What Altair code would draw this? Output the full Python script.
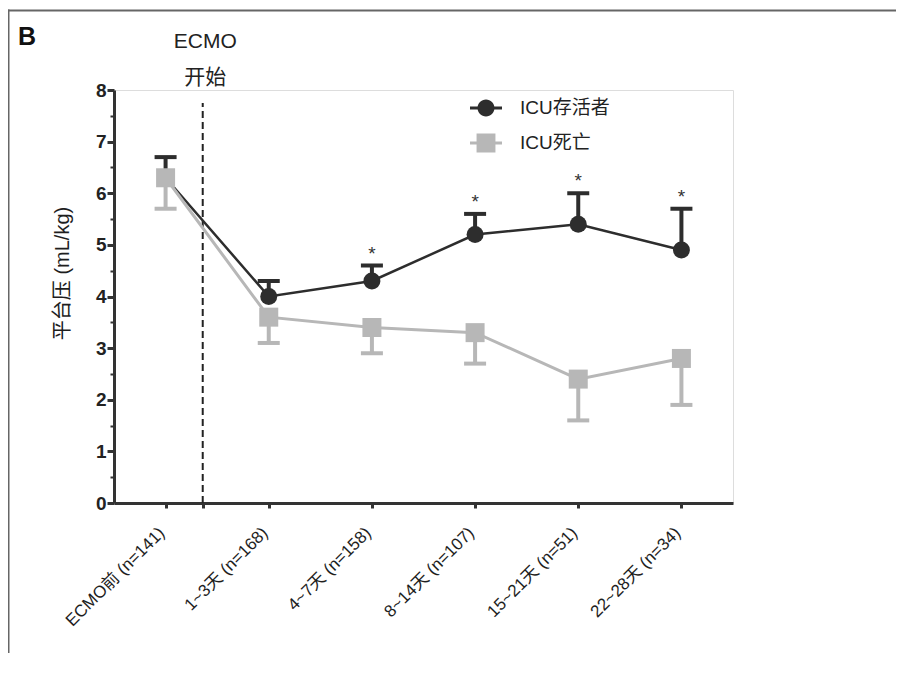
import json
import altair as alt
import pandas as pd

# ---------------- data ----------------
categories = ["ECMO前 (n=141)", "1~3天 (n=168)", "4~7天 (n=158)",
              "8~14天 (n=107)", "15~21天 (n=51)", "22~28天 (n=34)"]
positions = [0, 1, 2, 3, 4, 5]
survivor_mean = [6.3, 4.0, 4.3, 5.2, 5.4, 4.9]
survivor_upper = [6.7, 4.3, 4.6, 5.6, 6.0, 5.7]
death_mean = [6.3, 3.6, 3.4, 3.3, 2.4, 2.8]
death_lower = [5.7, 3.1, 2.9, 2.7, 1.6, 1.9]
significant = [False, False, True, True, True, True]
series_names = ["ICU存活者", "ICU死亡"]
ecmo_start = 0.36          # position of the "ECMO 开始" dashed line
dash_top = 7.75
y_ticks = [i / 2 for i in range(17)]
x_ticks = [0, ecmo_start, 1, 2, 3, 4, 5]

DARK = "#2d2d2d"
GRAY = "#b7b7b7"
AXIS = "#333333"
FONT = "Liberation Sans, Arial, Noto Sans CJK SC, sans-serif"

df = pd.DataFrame({
    "pos": positions, "label": categories,
    "s_mean": survivor_mean, "s_up": survivor_upper,
    "d_mean": death_mean, "d_low": death_lower, "sig": significant,
})
sig_df = df[df["sig"]]
legend_df = pd.DataFrame({"series": series_names, "pos": [0, 0], "v": [6.3, 6.3]})

xscale = alt.Scale(domain=[-0.5, 5.5], nice=False, zero=False)
yscale = alt.Scale(domain=[0, 8], nice=False, zero=False)

label_expr = ("datum.value % 1 === 0 ? " + json.dumps(categories, ensure_ascii=False)
              + "[datum.value] : ''")
xaxis = alt.Axis(values=x_ticks, labelExpr=label_expr, labelAngle=-45,
                 labelAlign="right", labelBaseline="middle", labelFontSize=17,
                 labelFont=FONT, labelColor="#1e1e1e", labelPadding=22, labelOffset=-4,
                 labelOverlap=False, labelFlush=False, labelBound=False,
                 tickSize=5, tickWidth=3, tickColor=AXIS,
                 domainColor=AXIS, domainWidth=3, grid=False, title=None)
yaxis = alt.Axis(values=y_ticks,
                 labelExpr="datum.value % 1 === 0 ? format(datum.value, 'd') : ''",
                 tickSize={"condition": {"test": "datum.value % 1 !== 0", "value": 4}, "value": 7},
                 tickWidth={"condition": {"test": "datum.value % 1 !== 0", "value": 2}, "value": 3},
                 tickColor=AXIS, domainColor=AXIS, domainWidth=3, grid=False,
                 labelFontSize=19, labelFontWeight="bold", labelFont=FONT,
                 labelColor="#222", labelPadding=1, labelOverlap=False,
                 labelFlush=False,
                 title="平台压 (mL/kg)", titleFont=FONT, titleFontSize=20,
                 titleFontWeight="normal", titleColor="#1e1e1e", titleAngle=270,
                 titleX=-52, titleY=183, titleAlign="center", titleBaseline="middle")

X = alt.X("pos:Q", scale=xscale, axis=xaxis)


def Y(field):
    return alt.Y(f"{field}:Q", scale=yscale, axis=yaxis)


base = alt.Chart(df)
one = alt.Data(values=[{}])

# frame of the figure panel
frame_top = alt.Chart(one).mark_rule(color="#666", strokeWidth=2).encode(
    x=alt.value(-106), x2=alt.value(782), y=alt.value(-79.5))
frame_left = alt.Chart(one).mark_rule(color="#666", strokeWidth=2).encode(
    x=alt.value(-105.5), y=alt.value(-80.5), y2=alt.value(600))

dashed = alt.Chart(pd.DataFrame({"pos": [ecmo_start], "y0": [0], "y1": [dash_top]})).mark_rule(
    color="#222", strokeWidth=2, strokeDash=[7, 4]).encode(
    x=X, y=Y("y0"), y2="y1:Q")

s_line = base.mark_line(color=DARK, strokeWidth=2.5).encode(x=X, y=Y("s_mean"))
s_stem = base.mark_rule(color=DARK, strokeWidth=4).encode(x=X, y=Y("s_mean"), y2="s_up:Q")
s_cap = base.mark_tick(color=DARK, orient="horizontal", size=22, thickness=4, opacity=1).encode(
    x=X, y=Y("s_up"))
s_pts = base.mark_point(shape="circle", filled=True, color=DARK, size=289, opacity=1).encode(
    x=X, y=Y("s_mean"))

d_line = base.mark_line(color=GRAY, strokeWidth=3).encode(x=X, y=Y("d_mean"))
d_stem = base.mark_rule(color=GRAY, strokeWidth=4).encode(x=X, y=Y("d_mean"), y2="d_low:Q")
d_cap = base.mark_tick(color=GRAY, orient="horizontal", size=22, thickness=4, opacity=1).encode(
    x=X, y=Y("d_low"))
d_pts = base.mark_point(shape="square", filled=True, color=GRAY, size=361, opacity=1).encode(
    x=X, y=Y("d_mean"))

stars = alt.Chart(sig_df).mark_text(text="*", fontSize=19, font=FONT, color="#333",
                                    dy=-6, baseline="alphabetic").encode(
    x=X, y=Y("s_up"))

ann_df = pd.DataFrame({"pos": [ecmo_start]})
ann1 = alt.Chart(ann_df).mark_text(text="ECMO", fontSize=21, font=FONT, color="#222",
                                   dx=2.5, baseline="middle", align="center").encode(
    x=X, y=alt.value(-48))
ann2 = alt.Chart(ann_df).mark_text(text="开始", fontSize=21, font=FONT, color="#222",
                                   dx=2.5, baseline="middle", align="center").encode(
    x=X, y=alt.value(-12))
panel = alt.Chart(one).mark_text(text="B", fontSize=25, fontWeight="bold", font=FONT,
                                 color="#111", align="left", baseline="alphabetic").encode(
    x=alt.value(-96), y=alt.value(-45))

circle_path = "M-1,-0.1H1V0.1H-1Z M0.53,0A0.53,0.53 0 1 1 -0.53,0A0.53,0.53 0 1 1 0.53,0Z"
square_path = "M-1,-0.1H1V0.1H-1Z M-0.59,-0.59H0.59V0.59H-0.59Z"
legend = alt.Legend(orient="none", legendX=356, legendY=2, title=None,
                    symbolSize=1024, symbolOpacity=1, symbolStrokeWidth=0,
                    labelFontSize=19, labelFont=FONT, labelColor="#222",
                    labelOffset=18, rowPadding=9, padding=0)
legend_layer = alt.Chart(legend_df).mark_point(filled=True, opacity=0, size=1024).encode(
    x=X, y=Y("v"),
    color=alt.Color("series:N", scale=alt.Scale(domain=series_names, range=[DARK, GRAY]),
                    legend=legend),
    shape=alt.Shape("series:N", scale=alt.Scale(domain=series_names,
                                                range=[circle_path, square_path]),
                    legend=legend),
)

chart = alt.layer(
    frame_top, frame_left, dashed,
    s_line, s_stem, s_cap, s_pts,
    d_line, d_stem, d_cap, d_pts,
    stars, ann1, ann2, panel, legend_layer,
).properties(
    width=619, height=413,
    autosize=alt.AutoSizeParams(type="none"),
    padding={"left": 106, "top": 82, "right": 164, "bottom": 150},
).configure_view(stroke=None).configure(font=FONT, background="white")

chart.save("out.html", embed_options={"renderer": "svg", "actions": False})
